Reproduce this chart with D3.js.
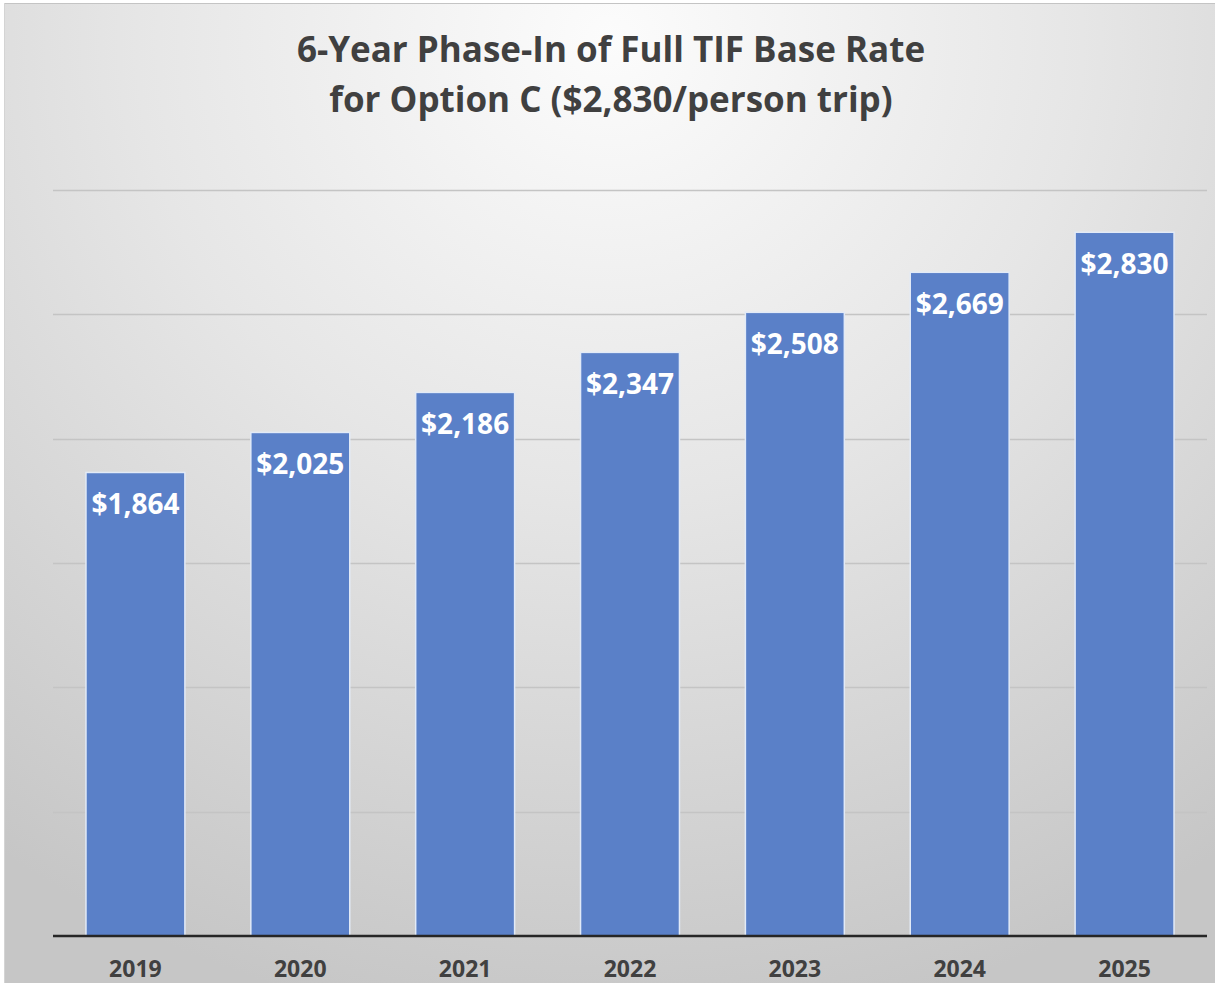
<!DOCTYPE html>
<html>
<head>
<meta charset="utf-8">
<script src="https://cdn.jsdelivr.net/npm/d3@7"></script>
<style>
  html, body { margin: 0; padding: 0; background: #ffffff; }
  svg { display: block; }
</style>
</head>
<body>
<svg id="chart" width="1215" height="983"></svg>
<script>
const years = ["2019", "2020", "2021", "2022", "2023", "2024", "2025"];
const rates = [1864, 2025, 2186, 2347, 2508, 2669, 2830];
const titleLines = ["6-Year Phase-In of Full TIF Base Rate", "for Option C ($2,830/person trip)"];
const yTicks = [0, 500, 1000, 1500, 2000, 2500, 3000];

const W = 1215, H = 983;
const svg = d3.select("#chart");
const defs = svg.append("defs");
const grad = defs.append("radialGradient")
  .attr("id", "bg").attr("gradientUnits", "userSpaceOnUse")
  .attr("cx", 610).attr("cy", 40).attr("r", 1050)
  .attr("gradientTransform", "translate(610,40) scale(1,0.95) translate(-610,-40)");
grad.append("stop").attr("offset", "0%").attr("stop-color", "#fcfcfc");
grad.append("stop").attr("offset", "45%").attr("stop-color", "#e6e6e6");
grad.append("stop").attr("offset", "100%").attr("stop-color", "#c6c6c6");

svg.append("rect").attr("x", 4).attr("y", 3).attr("width", W - 4).attr("height", H - 3)
  .attr("fill", "url(#bg)");
svg.append("line").attr("x1", 4).attr("x2", W).attr("y1", 3.5).attr("y2", 3.5)
  .attr("stroke", "#c4c4c4").attr("stroke-width", 1);
svg.append("line").attr("x1", 4.5).attr("x2", 4.5).attr("y1", 3).attr("y2", H)
  .attr("stroke", "#d4d4d4").attr("stroke-width", 1);

const x = d3.scaleBand().domain(years).range([53, 1207]).paddingInner(0.4).paddingOuter(0.2);
const y = d3.scaleLinear().domain([0, 3000]).range([936, 190]);

// gridlines
svg.append("g").selectAll("line").data(yTicks.filter(d => d > 0)).join("line")
  .attr("x1", 53).attr("x2", 1207)
  .attr("y1", d => Math.round(y(d)) + 0.5).attr("y2", d => Math.round(y(d)) + 0.5)
  .attr("stroke", "#c4c4c4").attr("stroke-width", 1.3);

// bars
svg.append("g").selectAll("rect").data(rates).join("rect")
  .attr("x", (d, i) => x(years[i]))
  .attr("y", d => y(d))
  .attr("width", x.bandwidth())
  .attr("height", d => y(0) - y(d))
  .attr("fill", "#5a80c8")
  .attr("stroke", "#e2eaf7").attr("stroke-width", 1.5);

// baseline axis
svg.append("line").attr("x1", 53).attr("x2", 1207).attr("y1", 936).attr("y2", 936)
  .attr("stroke", "#262626").attr("stroke-width", 2.5);

// value labels
const fmt = d3.format("$,");
svg.append("g").selectAll("text").data(rates).join("text")
  .attr("x", (d, i) => x(years[i]) + x.bandwidth() / 2)
  .attr("y", d => y(d) + 42)
  .attr("text-anchor", "middle")
  .attr("font-family", "'Open Sans', sans-serif")
  .attr("font-weight", "bold")
  .attr("font-size", 28)
  .attr("fill", "#ffffff")
  .text(d => fmt(d));

// category labels
svg.append("g").selectAll("text").data(years).join("text")
  .attr("x", d => x(d) + x.bandwidth() / 2)
  .attr("y", 977)
  .attr("text-anchor", "middle")
  .attr("font-family", "'Open Sans', sans-serif")
  .attr("font-weight", "bold")
  .attr("font-size", 23)
  .attr("fill", "#404040")
  .text(d => d);

// title
svg.append("g").selectAll("text").data(titleLines).join("text")
  .attr("x", 611)
  .attr("y", (d, i) => 62 + i * 50)
  .attr("text-anchor", "middle")
  .attr("font-family", "'Open Sans', sans-serif")
  .attr("font-weight", "bold")
  .attr("font-size", 35)
  .attr("fill", "#404040")
  .text(d => d);
</script>
</body>
</html>
